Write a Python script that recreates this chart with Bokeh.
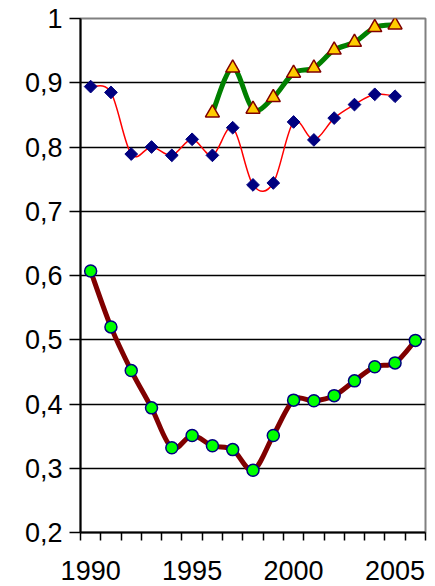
import numpy as np
from bokeh.plotting import figure
from bokeh.models import FixedTicker, CustomJSTickFormatter, Range1d, ColumnDataSource
from bokeh.embed import file_html
from bokeh.resources import INLINE

# ---- data ----
years_a = list(range(1990, 2007))
values_a = [0.607, 0.520, 0.452, 0.394, 0.332, 0.351, 0.335, 0.329, 0.297,
            0.351, 0.406, 0.405, 0.413, 0.436, 0.458, 0.464, 0.499]

years_b = list(range(1990, 2006))
values_b = [0.894, 0.885, 0.789, 0.800, 0.787, 0.812, 0.787, 0.830, 0.741,
            0.744, 0.839, 0.811, 0.845, 0.866, 0.882, 0.879]

years_c = list(range(1996, 2006))
values_c = [0.853, 0.923, 0.859, 0.877, 0.915, 0.923, 0.951, 0.963, 0.986, 0.990]

x_label_years = [1990, 1995, 2000, 2005]
y_ticks = [0.2, 0.3, 0.4, 0.5, 0.6, 0.7, 0.8, 0.9, 1.0]


def smooth_source(xs, ys):
    """Bezier segments (Catmull-Rom style smoothing, like a spreadsheet's smoothed line)."""
    n = len(xs)
    d = dict(x0=[], y0=[], x1=[], y1=[], cx0=[], cy0=[], cx1=[], cy1=[])
    for i in range(n - 1):
        xm, ym = (xs[i - 1], ys[i - 1]) if i > 0 else (xs[i], ys[i])
        xp, yp = (xs[i + 2], ys[i + 2]) if i + 2 < n else (xs[i + 1], ys[i + 1])
        d["x0"].append(xs[i]); d["y0"].append(ys[i])
        d["x1"].append(xs[i + 1]); d["y1"].append(ys[i + 1])
        d["cx0"].append(xs[i] + (xs[i + 1] - xm) / 6.0)
        d["cy0"].append(ys[i] + (ys[i + 1] - ym) / 6.0)
        d["cx1"].append(xs[i + 1] - (xp - xs[i]) / 6.0)
        d["cy1"].append(ys[i + 1] - (yp - ys[i]) / 6.0)
    return ColumnDataSource(d)


p = figure(width=435, height=586,
           x_range=Range1d(years_a[0] - 0.5, years_a[-1] + 0.5),
           y_range=Range1d(y_ticks[0], y_ticks[-1]),
           output_backend="svg", toolbar_location=None,
           min_border_left=80, min_border_right=10, min_border_top=18, min_border_bottom=54,
           background_fill_color="white", border_fill_color="white")

p.outline_line_color = "#808080"
p.outline_line_width = 2

# grid
p.xgrid.visible = False
p.ygrid.ticker = FixedTicker(ticks=y_ticks[1:-1])
p.ygrid.grid_line_color = "black"
p.ygrid.grid_line_width = 1.5

# x axis
p.xaxis.ticker = FixedTicker(ticks=x_label_years,
                             minor_ticks=[y - 0.5 for y in years_a] + [years_a[-1] + 0.5])
p.xaxis.major_tick_out = 0
p.xaxis.major_tick_in = 0
p.xaxis.minor_tick_out = 8
p.xaxis.minor_tick_in = 0
p.xaxis.minor_tick_line_color = "black"
p.xaxis.minor_tick_line_width = 1.5
p.xaxis.major_label_standoff = 20

# y axis
p.yaxis.ticker = FixedTicker(ticks=y_ticks, minor_ticks=[])
p.yaxis.formatter = CustomJSTickFormatter(
    code="return (Math.round(tick*10)/10).toString().replace('.', ',');")
p.yaxis.major_tick_out = 11
p.yaxis.major_tick_in = 0
p.yaxis.major_label_standoff = 7

for ax in (p.xaxis, p.yaxis):
    ax.axis_line_color = "black"
    ax.axis_line_width = 2
    ax.major_tick_line_color = "black"
    ax.major_tick_line_width = 1.5
    ax.major_label_text_font = "Liberation Sans"
    ax.major_label_text_font_size = "27px"
    ax.major_label_text_color = "black"

# series lines (smoothed)
p.bezier("x0", "y0", "x1", "y1", "cx0", "cy0", "cx1", "cy1",
         source=smooth_source(years_a, values_a), line_color="#800000", line_width=5)
p.bezier("x0", "y0", "x1", "y1", "cx0", "cy0", "cx1", "cy1",
         source=smooth_source(years_b, values_b), line_color="#FF0000", line_width=1.5)
p.bezier("x0", "y0", "x1", "y1", "cx0", "cy0", "cx1", "cy1",
         source=smooth_source(years_c, values_c), line_color="#008000", line_width=5)

# markers
p.scatter(years_a, values_a, marker="circle", size=12,
          fill_color="#00FF00", line_color="#000080", line_width=1.5)
p.scatter(years_b, values_b, marker="square", angle=np.pi / 4, size=9,
          fill_color="#000080", line_color="#000080", line_width=1)
p.scatter(years_c, values_c, marker="triangle", size=14,
          fill_color="#FFCC00", line_color="#800000", line_width=1.5)

open("out.html", "w").write(file_html(p, INLINE))
